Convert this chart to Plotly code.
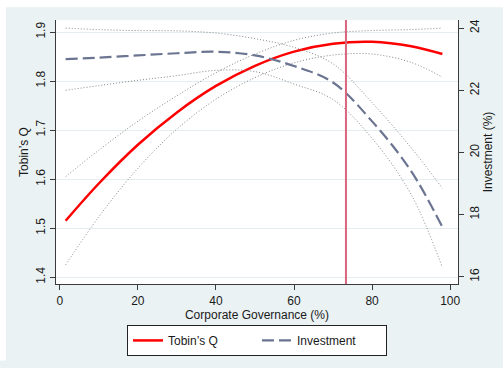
import plotly.graph_objects as go

# Corporate governance (%) grid at which the fitted curves are read
gov = [1.5, 10, 20, 30, 40, 50, 60, 70, 80, 90, 98]

# Tobin's Q fit and its confidence band (left axis)
q_fit = [1.515, 1.591, 1.670, 1.736, 1.790, 1.831, 1.860, 1.876, 1.880, 1.871, 1.855]
q_hi = [1.605, 1.659, 1.718, 1.770, 1.817, 1.855, 1.883, 1.898, 1.903, 1.905, 1.908]
q_lo = [1.425, 1.523, 1.622, 1.702, 1.763, 1.807, 1.837, 1.853, 1.855, 1.838, 1.808]

# Investment (%) fit and its confidence band (right axis)
inv_fit = [23.0, 23.05, 23.12, 23.19, 23.24, 23.12, 22.78, 22.25, 21.0, 19.4, 17.6]
inv_hi = [24.0, 23.95, 23.92, 23.91, 23.84, 23.66, 23.38, 22.85, 21.6, 20.15, 18.85]
inv_lo = [22.0, 22.15, 22.32, 22.47, 22.64, 22.6, 22.2, 21.7, 20.45, 18.65, 16.3]

# Vertical reference line (optimal governance level)
vline_x = 73.3

left_ticks = [1.4, 1.5, 1.6, 1.7, 1.8, 1.9]
right_ticks = [16, 18, 20, 22, 24]
x_ticks = [0, 20, 40, 60, 80, 100]

FONT = "Liberation Sans, Arial, sans-serif"
BG = "#eaf2f3"
DOT = dict(color="#858585", width=1, dash="1px,2px")

fig = go.Figure()

# confidence bands
fig.add_trace(go.Scatter(x=gov, y=q_hi, mode="lines", line=DOT, line_shape="spline", showlegend=False, hoverinfo="skip"))
fig.add_trace(go.Scatter(x=gov, y=q_lo, mode="lines", line=DOT, line_shape="spline", showlegend=False, hoverinfo="skip"))
fig.add_trace(go.Scatter(x=gov, y=inv_hi, mode="lines", line=DOT, line_shape="spline", showlegend=False, hoverinfo="skip", yaxis="y2"))
fig.add_trace(go.Scatter(x=gov, y=inv_lo, mode="lines", line=DOT, line_shape="spline", showlegend=False, hoverinfo="skip", yaxis="y2"))

# fitted lines
fig.add_trace(go.Scatter(x=gov, y=q_fit, mode="lines", name="Tobin’s Q",
                         line=dict(color="#ff0000", width=2.5), line_shape="spline"))
fig.add_trace(go.Scatter(x=gov, y=inv_fit, mode="lines", name="Investment",
                         line=dict(color="#6b7591", width=2.2, dash="12px,5px"), line_shape="spline",
                         yaxis="y2"))

fig.add_shape(type="line", xref="x", yref="paper", x0=vline_x, x1=vline_x, y0=0, y1=1,
              line=dict(color="#d9667f", width=2))

# white frame strips outside the graph region (top and left)
fig.add_shape(type="rect", xref="paper", yref="paper", x0=-0.15, x1=1.15, y0=1.0483, y1=1.08,
              line=dict(width=0), fillcolor="white", layer="below")
fig.add_shape(type="rect", xref="paper", yref="paper", x0=-0.15, x1=-0.1244, y0=-0.29, y1=1.08,
              line=dict(width=0), fillcolor="white", layer="below")

axis_common = dict(showline=True, linecolor="#3a3a3a", linewidth=1.2, ticks="outside",
                   ticklen=5, tickcolor="#3a3a3a", zeroline=False,
                   tickfont=dict(family=FONT, size=12, color="#1a1a1a"))

fig.update_layout(
    width=503, height=368,
    margin=dict(l=56, r=45, t=20, b=79),
    paper_bgcolor=BG, plot_bgcolor="white",
    font=dict(family=FONT, size=12, color="#1a1a1a"),
    xaxis=dict(range=[-0.97, 102], tickvals=x_ticks, showgrid=False,
               title=dict(text="Corporate Governance (%)", standoff=4,
                          font=dict(family=FONT, size=12)), **axis_common),
    yaxis=dict(range=[1.386, 1.9245], tickvals=left_ticks, tickangle=-90,
               showgrid=True, gridcolor="#e4edf0", gridwidth=1,
               title=dict(text="Tobin’s Q", standoff=2, font=dict(family=FONT, size=12)),
               **axis_common),
    yaxis2=dict(range=[15.77, 24.26], tickvals=right_ticks, tickangle=-90,
                overlaying="y", side="right", showgrid=False,
                title=dict(text="Investment (%)", standoff=0, font=dict(family=FONT, size=12)),
                **axis_common),
    legend=dict(orientation="h", x=0.5, xanchor="center", y=-0.155, yanchor="top",
                bgcolor="white", bordercolor="#222", borderwidth=1,
                font=dict(family=FONT, size=12), entrywidth=84, entrywidthmode="pixels"),
    showlegend=True,
)

fig.write_html("out.html", config={"displayModeBar": False},
               post_script="document.body.style.margin='0';document.body.style.padding='0';")
